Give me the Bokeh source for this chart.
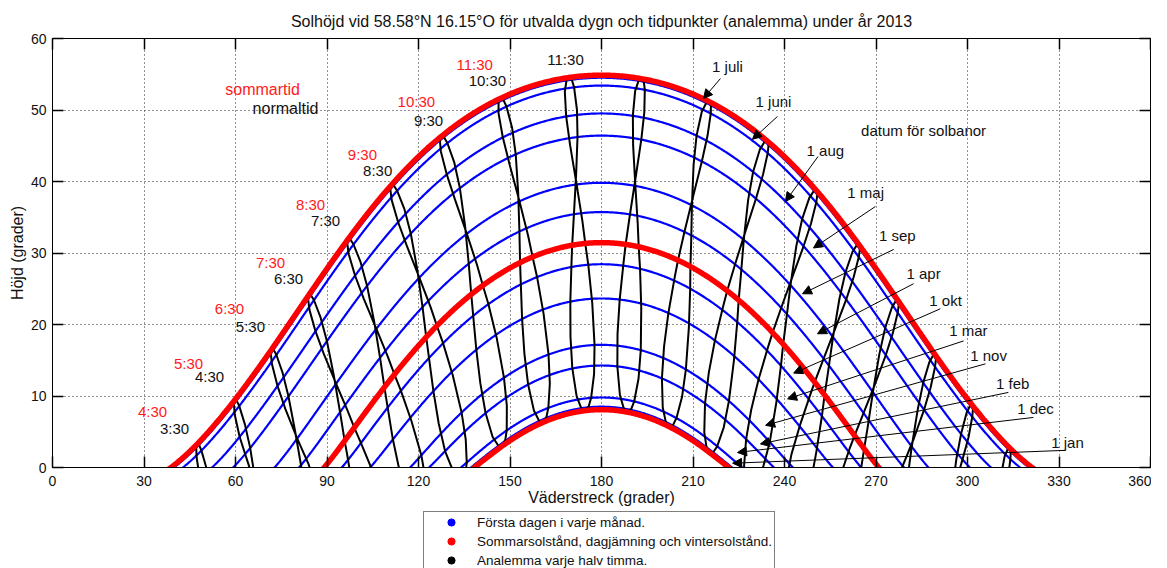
import numpy as np
from bokeh.plotting import figure
from bokeh.layouts import column, row
from bokeh.models import (Range1d, LinearAxis, FixedTicker, Arrow, NormalHead,
                          Label, Legend, LegendItem, Spacer)
from bokeh.embed import file_html
from bokeh.resources import INLINE

FONT = "Liberation Sans"

# ---------------- data ----------------
LAT = 58.58          # degrees N
LON = 16.15          # degrees E (O)
ZONE_LON = 15.0      # meridian of normaltid (CET)

# sun paths for the first day of every month: noon altitude
month_labels = ["1 jan", "1 feb", "1 mar", "1 apr", "1 maj", "1 juni",
                "1 juli", "1 aug", "1 sep", "1 okt", "1 nov", "1 dec"]
month_noon_alt = [8.4, 14.2, 23.6, 35.7, 46.4, 53.4, 54.5, 49.5, 39.8, 28.4, 17.1, 9.7]

# solstices and equinox (red)
special_labels = ["sommarsolstånd", "dagjämning", "vintersolstånd"]
special_noon_alt = [54.86, 31.42, 7.98]

# analemma table: date, solar declination (deg), equation of time (min)
ana_dates = ["1 jan", "15 jan", "1 feb", "15 feb", "1 mar", "15 mar", "20 mar",
             "1 apr", "15 apr", "1 maj", "15 maj", "1 juni", "10 juni", "21 juni",
             "1 juli", "15 juli", "1 aug", "15 aug", "1 sep", "15 sep", "22 sep",
             "1 okt", "15 okt", "1 nov", "15 nov", "1 dec", "10 dec", "21 dec"]
ana_decl = [-23.0, -21.2, -17.2, -12.7, -7.8, -2.4, 0.0,
            4.3, 9.7, 15.0, 18.8, 22.0, 23.0, 23.44,
            23.1, 21.6, 18.1, 14.0, 8.4, 3.2, 0.0,
            -3.0, -8.4, -14.3, -18.4, -21.7, -22.9, -23.44]
ana_eot = [-3.2, -9.1, -13.5, -14.2, -12.5, -9.1, -7.5,
           -4.1, -0.1, 2.9, 3.6, 2.2, 0.8, -1.6,
           -3.7, -5.9, -6.4, -4.5, 0.0, 4.7, 7.2,
           10.1, 14.1, 16.4, 15.4, 11.0, 7.3, 1.9]
# clock times (normaltid) of the analemmas
ana_clock = ["3:30", "4:30", "5:30", "6:30", "7:30", "8:30", "9:30", "10:30", "11:30",
             "12:30", "13:30", "14:30", "15:30", "16:30", "17:30", "18:30", "19:30", "20:30"]

# labels of the morning analemmas
normal_time_labels = ["3:30", "4:30", "5:30", "6:30", "7:30", "8:30", "9:30", "10:30", "11:30"]
summer_time_labels = ["4:30", "5:30", "6:30", "7:30", "8:30", "9:30", "10:30", "11:30"]

# annotation placement (azimuth, altitude)
normal_label_pos = [(40.0, 5.4), (51.5, 12.7), (64.9, 19.7), (77.4, 26.4), (89.5, 34.6),
                    (106.6, 41.6), (123.3, 48.5), (142.6, 54.1), (168.2, 57.0)]
summer_label_pos = [(32.8, 7.9), (44.6, 14.6), (58.0, 22.2), (71.5, 28.7), (84.6, 36.8),
                    (101.6, 43.8), (119.3, 51.2), (138.4, 56.3)]
arrow_order = ["1 juli", "1 juni", "1 aug", "1 maj", "1 sep", "1 apr",
               "1 okt", "1 mar", "1 nov", "1 feb", "1 dec", "1 jan"]
arrow_label_pos = [(221.3, 56.1), (236.4, 51.2), (253.4, 44.4), (266.6, 38.4), (277.0, 32.4),
                   (285.6, 27.2), (292.8, 23.3), (300.3, 19.1), (306.9, 15.6), (314.8, 11.7),
                   (322.3, 8.2), (332.8, 3.5)]
arrow_tail = [(219.0, 54.4), (237.7, 49.1), (251.0, 43.5), (269.8, 36.5), (275.8, 30.5),
              (282.3, 25.7), (291.1, 22.2), (298.7, 17.7), (305.9, 14.5), (313.4, 10.5),
              (321.6, 7.0), (332.1, 2.4)]
arrow_head = [(213.4, 51.6), (229.5, 45.9), (240.3, 37.2), (249.5, 30.7), (245.9, 24.3),
              (250.8, 18.7), (243.0, 13.2), (241.0, 9.6), (233.8, 5.9), (232.1, 3.3),
              (224.6, 2.1), (223.0, 0.6)]

TITLE = "Solhöjd vid 58.58°N 16.15°O för utvalda dygn och tidpunkter (analemma) under år 2013"
legend_labels = ["Första dagen i varje månad.",
                 "Sommarsolstånd, dagjämning och vintersolstånd.",
                 "Analemma varje halv timma."]


# ---------------- geometry ----------------
def sun_position(decl_deg, hour_angle_deg):
    phi = np.radians(LAT)
    d = np.radians(np.asarray(decl_deg, dtype=float))
    H = np.radians(np.asarray(hour_angle_deg, dtype=float))
    alt = np.degrees(np.arcsin(np.sin(phi) * np.sin(d) + np.cos(phi) * np.cos(d) * np.cos(H)))
    # atmospheric refraction (apparent altitude)
    with np.errstate(all="ignore"):
        refr = 1.02 / np.tan(np.radians(alt + 10.3 / (alt + 5.11))) / 60.0
    alt = np.where(alt > -1.5, alt + refr, alt)
    az = np.degrees(np.arctan2(np.sin(H), np.cos(H) * np.sin(phi) - np.tan(d) * np.cos(phi))) + 180.0
    return az, alt


def day_path(noon_alt):
    decl = noon_alt - (90.0 - LAT)
    H = np.linspace(-180.0, 180.0, 1441)
    az, alt = sun_position(np.full_like(H, decl), H)
    keep = alt > -4
    az = np.where(keep, az, np.nan)
    alt = np.where(keep, alt, np.nan)
    return az, alt


def clock_hours(s):
    h, m = s.split(":")
    return int(h) + int(m) / 60.0


# ---------------- main figure ----------------
p = figure(width=1151, height=510, x_range=Range1d(0, 360), y_range=Range1d(0, 60),
           output_backend="svg", toolbar_location=None,
           min_border_left=52, min_border_right=1, min_border_top=38, min_border_bottom=43,
           x_axis_label="Väderstreck (grader)", y_axis_label="Höjd (grader)")
p.background_fill_color = "white"
p.border_fill_color = "white"
p.outline_line_color = "black"
p.outline_line_width = 1

p.title.text = TITLE
p.title.align = "center"
p.title.text_font = FONT
p.title.text_font_size = "16px"
p.title.text_font_style = "normal"
p.title.text_color = "#111111"
p.title.standoff = 18

xticks = list(range(0, 361, 30))
yticks = list(range(0, 61, 10))

for ax, ticks in ((p.below[0], xticks), (p.left[0], yticks)):
    ax.ticker = FixedTicker(ticks=ticks)
    ax.major_tick_in = 11
    ax.major_tick_out = 0
    ax.minor_tick_in = 0
    ax.minor_tick_out = 0
    ax.major_tick_line_width = 1.5
    ax.axis_line_color = "black"
    ax.major_tick_line_color = "black"
    ax.major_label_text_font = FONT
    ax.major_label_text_font_size = "14px"
    ax.major_label_text_color = "#111111"
    ax.axis_label_text_font = FONT
    ax.axis_label_text_font_size = "16px"
    ax.axis_label_text_font_style = "normal"
    ax.axis_label_text_color = "#111111"
p.below[0].major_label_standoff = 8
p.below[0].axis_label_standoff = 0
p.left[0].major_label_standoff = 6
p.left[0].axis_label_standoff = 2

for place, ticks in (("above", xticks), ("right", yticks)):
    ax = LinearAxis(ticker=FixedTicker(ticks=ticks), major_tick_in=11, major_tick_out=0,
                    minor_tick_in=0, minor_tick_out=0, major_label_text_font_size="1px",
                    major_label_text_color=None, major_label_standoff=0,
                    major_label_overrides={t: " " for t in ticks},
                    axis_line_color="black",
                    major_tick_line_color="black", major_tick_line_width=1.5)
    p.add_layout(ax, place)

p.xgrid.ticker = FixedTicker(ticks=xticks)
p.ygrid.ticker = FixedTicker(ticks=yticks)
for g in (p.xgrid, p.ygrid):
    g.grid_line_color = "#222222"
    g.grid_line_dash = "1 3"
    g.grid_line_width = 1

# blue: first day of every month
for na in month_noon_alt:
    az, alt = day_path(na)
    p.line(az, alt, line_color="#0000ff", line_width=2.2)

# black: analemmas every clock time
for ct in ana_clock:
    t = clock_hours(ct)
    solar = np.array([t + (LON - ZONE_LON) / 15.0 + e / 60.0 for e in ana_eot])
    H = (solar - 12.0) * 15.0
    az, alt = sun_position(ana_decl, H)
    az = np.append(az, az[0])
    alt = np.append(alt, alt[0])
    p.line(az, alt, line_color="black", line_width=2)

# red: solstices and equinox
for na in special_noon_alt:
    az, alt = day_path(na)
    p.line(az, alt, line_color="#ff0000", line_width=5.5)

# ---------------- annotations ----------------
def add_text(x, y, txt, color="#111111", size="15px"):
    p.add_layout(Label(x=x, y=y, text=txt, text_font=FONT, text_font_size=size,
                       text_color=color, text_align="center", text_baseline="middle"))

add_text(68.9, 52.9, "sommartid", color="#ff1a1a", size="16px")
add_text(76.4, 50.2, "normaltid", size="16px")
for (x, y), t in zip(normal_label_pos, normal_time_labels):
    add_text(x, y, t)
for (x, y), t in zip(summer_label_pos, summer_time_labels):
    add_text(x, y, t, color="#ff1a1a")
add_text(285.6, 47.1, "datum för solbanor")

for lab, (lx, ly), (tx, ty), (hx, hy) in zip(arrow_order, arrow_label_pos, arrow_tail, arrow_head):
    add_text(lx, ly, lab)
    p.add_layout(Arrow(x_start=tx, y_start=ty, x_end=hx, y_end=hy, line_color="black",
                       line_width=1,
                       end=NormalHead(size=9, fill_color="black", line_color="black")))

# ---------------- legend (own small canvas under the axis label) ----------------
leg = figure(width=358, height=58, x_range=Range1d(0, 1), y_range=Range1d(0, 1),
             output_backend="svg", toolbar_location=None,
             x_axis_location=None, y_axis_location=None,
             min_border_left=0, min_border_right=0, min_border_top=0, min_border_bottom=0)
leg.outline_line_color = None
leg.xgrid.visible = False
leg.ygrid.visible = False
leg.background_fill_color = "white"
leg.border_fill_color = "white"
# one point each, placed outside the legend canvas: only the legend swatches show
r1 = leg.scatter([5], [5], marker="circle", size=7, color="#0000ff")
r2 = leg.scatter([5], [5], marker="circle", size=10, color="#ff0000")
r3 = leg.scatter([5], [5], marker="circle", size=7, color="black")
legend = Legend(items=[LegendItem(label=legend_labels[0], renderers=[r1]),
                       LegendItem(label=legend_labels[1], renderers=[r2]),
                       LegendItem(label=legend_labels[2], renderers=[r3])],
                location="top_left", orientation="vertical", margin=1,
                glyph_width=52, glyph_height=18, label_height=18, label_standoff=0,
                label_width=296, padding=1, spacing=1,
                border_line_color="black", border_line_width=1,
                background_fill_color="white", background_fill_alpha=1,
                label_text_font=FONT, label_text_font_size="13.5px", label_text_color="#111111")
leg.add_layout(legend)

layout = column(p, row(Spacer(width=422, height=58), leg))
open("out.html", "w").write(file_html(layout, INLINE))
